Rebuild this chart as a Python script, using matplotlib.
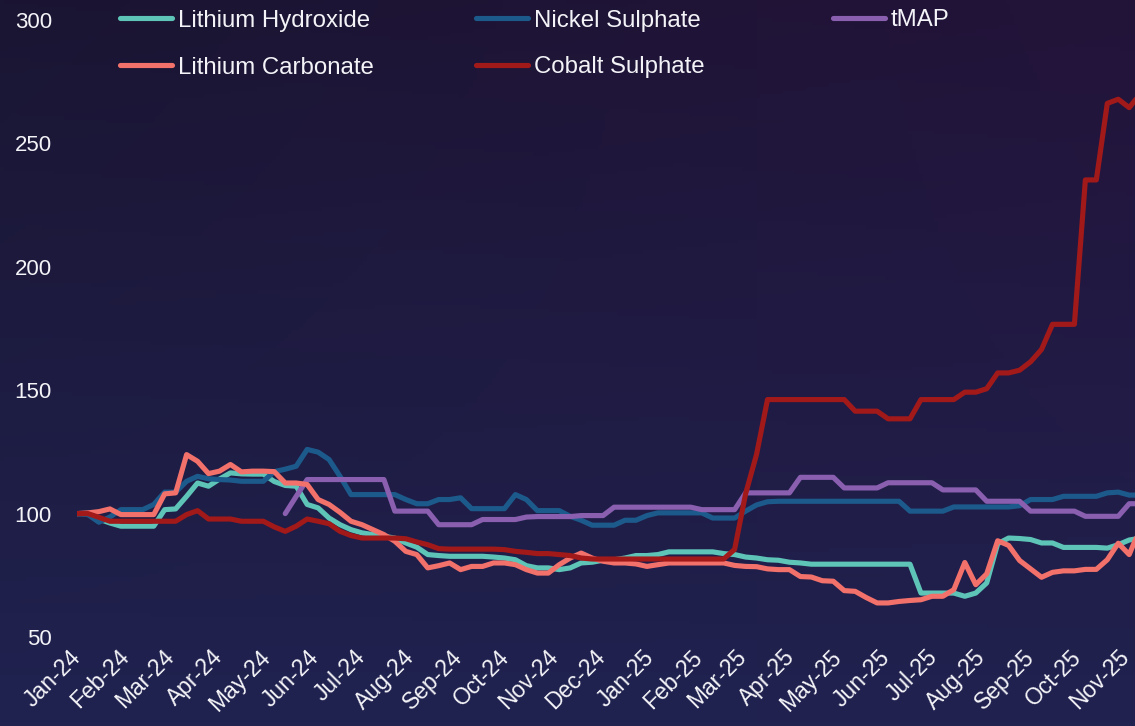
import numpy as np
import pandas as pd
import matplotlib
matplotlib.use("Agg")
import matplotlib.pyplot as plt
import matplotlib.dates as mdates
from matplotlib.lines import Line2D

plt.rcParams['font.family'] = ['Liberation Sans', 'DejaVu Sans']

# ---------------- data (weekly, Monday dates) ----------------
dates = pd.date_range('2024-01-01', periods=98, freq='7D')

lithium_hydroxide = [
    100, 100, 97.8, 96.2, 94.9, 94.9, 94.9, 94.9, 101.6, 101.9,
    107, 112.4, 111.1, 114, 116.5, 116.1, 116, 116, 113, 111.4,
    111.1, 103.7, 102.3, 98.2, 95.5, 93.5, 92.2, 91.5, 90.8, 90.1,
    88.1, 86.4, 83.4, 83, 82.7, 82.7, 82.7, 82.7, 82.4, 82,
    81.3, 78.9, 78, 78, 77.3, 78, 80, 80.3, 81.1, 81.3,
    82, 83, 83, 83.4, 84.5, 84.5, 84.5, 84.5, 84.5, 83.8,
    83.4, 82.4, 82, 81.3, 81.1, 80.3, 80, 79.5, 79.5, 79.5,
    79.5, 79.5, 79.5, 79.5, 79.5, 79.5, 79.5, 67.8, 67.8, 67.8,
    67.8, 66.5, 67.8, 71.9, 87.8, 90.1, 89.9, 89.5, 88.1, 88.1,
    86.3, 86.3, 86.3, 86.3, 86, 87.4, 89.3, 90]

nickel_sulphate = [
    100, 99.6, 96.5, 98.6, 101.6, 101.6, 101.6, 103.7, 108.7, 108.7,
    113.1, 115.1, 114.1, 113.8, 113.6, 113.1, 113.1, 113.1, 117, 118,
    119.2, 126, 124.9, 121.9, 115.1, 107.7, 107.7, 107.7, 107.7, 107.7,
    105.7, 104, 104, 105.7, 105.7, 106.4, 102, 102, 102, 102,
    107.7, 105.7, 101.2, 101.2, 101.2, 98.9, 97.3, 95.3, 95.3, 95.3,
    97.3, 97.3, 99.2, 100.3, 100.3, 100.3, 100.3, 100.3, 98.2, 98.2,
    98.2, 101, 103.5, 104.8, 105, 105, 105, 105, 105, 105,
    105, 105, 105, 105, 105, 105, 101, 101, 101, 101,
    102.7, 102.7, 102.7, 102.7, 102.7, 102.7, 103.2, 105.7, 105.7, 105.7,
    107, 107, 107, 107, 108.4, 108.7, 107.5, 107.5]

tmap = [np.nan] * 19 + [
    100, 107, 113.8, 113.8, 113.8, 113.8, 113.8, 113.8, 113.8, 113.8,
    101, 101, 101, 101, 95.5, 95.5, 95.5, 95.5, 97.6, 97.6,
    97.6, 97.6, 98.6, 98.8, 98.8, 98.8, 98.8, 99.2, 99.2, 99.2,
    102.6, 102.6, 102.6, 102.6, 102.6, 102.6, 102.6, 102.6, 101.6, 101.6,
    101.6, 101.6, 108.4, 108.4, 108.4, 108.4, 108.4, 114.7, 114.7, 114.7,
    114.7, 110.4, 110.4, 110.4, 110.4, 112.5, 112.5, 112.5, 112.5, 112.5,
    109.6, 109.6, 109.6, 109.6, 105, 105, 105, 105, 101, 101,
    101, 101, 101, 98.9, 98.9, 98.9, 98.9, 104, 104]

lithium_carbonate = [
    100, 100.3, 100.8, 101.9, 99.6, 99.6, 99.6, 99.6, 108, 108.4,
    123.9, 121.2, 116.2, 117.2, 119.9, 116.9, 117.2, 117.2, 117, 112.4,
    112.4, 111.8, 105.7, 103.7, 100.5, 96.9, 95.5, 93.5, 91.5, 88.8,
    84.7, 83.4, 78, 78.9, 80, 77.3, 78.6, 78.6, 80, 80,
    79.3, 77.3, 75.9, 75.9, 79.3, 82, 84, 82, 80.7, 80,
    80, 79.6, 78.6, 79.3, 80, 80, 80, 80, 80, 80,
    79, 78.6, 78.5, 77.6, 77.3, 77.3, 74.5, 74.3, 72.8, 72.6,
    68.8, 68.5, 66, 63.8, 63.8, 64.4, 64.8, 65.1, 66.5, 66.5,
    69.2, 80.2, 71.2, 75.6, 89, 87.1, 81, 77.6, 74.2, 76.2,
    76.8, 76.8, 77.4, 77.4, 81.3, 88, 83.4, 94]

cobalt_sulphate = [
    100, 100, 98.5, 96.9, 96.9, 96.9, 96.9, 96.9, 96.9, 96.9,
    99.6, 101.2, 97.8, 97.8, 97.8, 96.9, 96.9, 96.9, 94.6, 92.8,
    94.9, 97.8, 96.9, 95.9, 92.8, 91.1, 90.1, 90.1, 90.1, 90.1,
    89.8, 88.5, 87.4, 85.8, 85.6, 85.6, 85.6, 85.6, 85.6, 85.4,
    84.7, 84.3, 83.8, 83.8, 83.4, 83, 82, 81.6, 81.6, 81.6,
    81.6, 81.6, 81.6, 81.6, 81.6, 81.6, 81.6, 81.6, 81.6, 81.6,
    85.5, 108, 124, 146.2, 146.2, 146.2, 146.2, 146.2, 146.2, 146.2,
    146.2, 141.5, 141.5, 141.5, 138.4, 138.4, 138.4, 146.2, 146.2, 146.2,
    146.2, 149.2, 149.2, 150.6, 157, 157, 158.1, 161.5, 166.5, 176.7,
    176.7, 176.7, 235.2, 235.2, 266.2, 267.9, 264.5, 270]

series_names = ['Lithium Hydroxide', 'Nickel Sulphate', 'tMAP',
                'Lithium Carbonate', 'Cobalt Sulphate']
series_values = [lithium_hydroxide, nickel_sulphate, tmap,
                 lithium_carbonate, cobalt_sulphate]
series_colors = ['#5ec4b8', '#1d5a8c', '#8a5fb0', '#f2716b', '#a2191a']

y_ticks = [50, 100, 150, 200, 250, 300]
month_ticks = pd.date_range('2024-01-01', '2025-11-01', freq='MS')

# ---------------- figure ----------------
W, H = 1135, 726
fig = plt.figure(figsize=(W / 100, H / 100), dpi=100)

# background gradient
bg = fig.add_axes([0, 0, 1, 1], zorder=-10)
yy, xx = np.mgrid[0:1:200j, 0:1:300j]
top = np.array([26, 21, 50]) / 255.0
bot = np.array([32, 34, 80]) / 255.0
img = top[None, None, :] * (1 - yy[..., None]) + bot[None, None, :] * yy[..., None]
tint = np.array([9, -2, 7]) / 255.0
img = img + tint[None, None, :] * (xx[..., None] * (1 - yy[..., None]))
img = np.clip(img, 0, 1)
bg.imshow(img, aspect='auto', extent=[0, 1, 0, 1], origin='upper')
bg.axis('off')

ax = fig.add_axes([77 / W, 89 / H, 1058 / W, 617 / H])
ax.set_facecolor('none')

for name, vals, col in zip(series_names, series_values, series_colors):
    ax.plot(dates, vals, color=col, lw=3.7, solid_joinstyle='round',
            solid_capstyle='round', label=name, clip_on=True)

x0 = pd.Timestamp('2024-01-01')
ax.set_xlim(x0, x0 + pd.Timedelta(days=675.7))
ax.set_ylim(50, 300)
ax.set_yticks(y_ticks)
ax.set_yticklabels([str(v) for v in y_ticks])
ax.set_xticks(month_ticks)
ax.xaxis.set_major_formatter(mdates.DateFormatter('%b-%y'))
for s in ax.spines.values():
    s.set_visible(False)
ax.tick_params(axis='y', length=0, pad=18, labelsize=16, labelcolor='#f4f4f8')
ax.tick_params(axis='x', length=0, pad=12, labelsize=16.5, labelcolor='#f4f4f8')
for lab in ax.get_xticklabels():
    lab.set_rotation(45)
    lab.set_ha('right')
    lab.set_va('center')
    lab.set_rotation_mode('anchor')

# ---------------- legend (manual layout) ----------------
legend_cols = [120, 476, 833]
legend_rows = [18, 65]
order = [(0, 0), (0, 1), (0, 2), (1, 0), (1, 1)]
for (r, c), name, col in zip(order, series_names, series_colors):
    xs = legend_cols[c]
    yv = 1 - legend_rows[r] / H
    fig.add_artist(Line2D([xs / W, (xs + 52) / W], [yv, yv], color=col, lw=3.7,
                          solid_capstyle='round', transform=fig.transFigure))
    fig.text((xs + 58) / W, yv, name, color='#f4f4f8', fontsize=17.3,
             va='center_baseline', ha='left')

fig.savefig('out.png', dpi=100)
